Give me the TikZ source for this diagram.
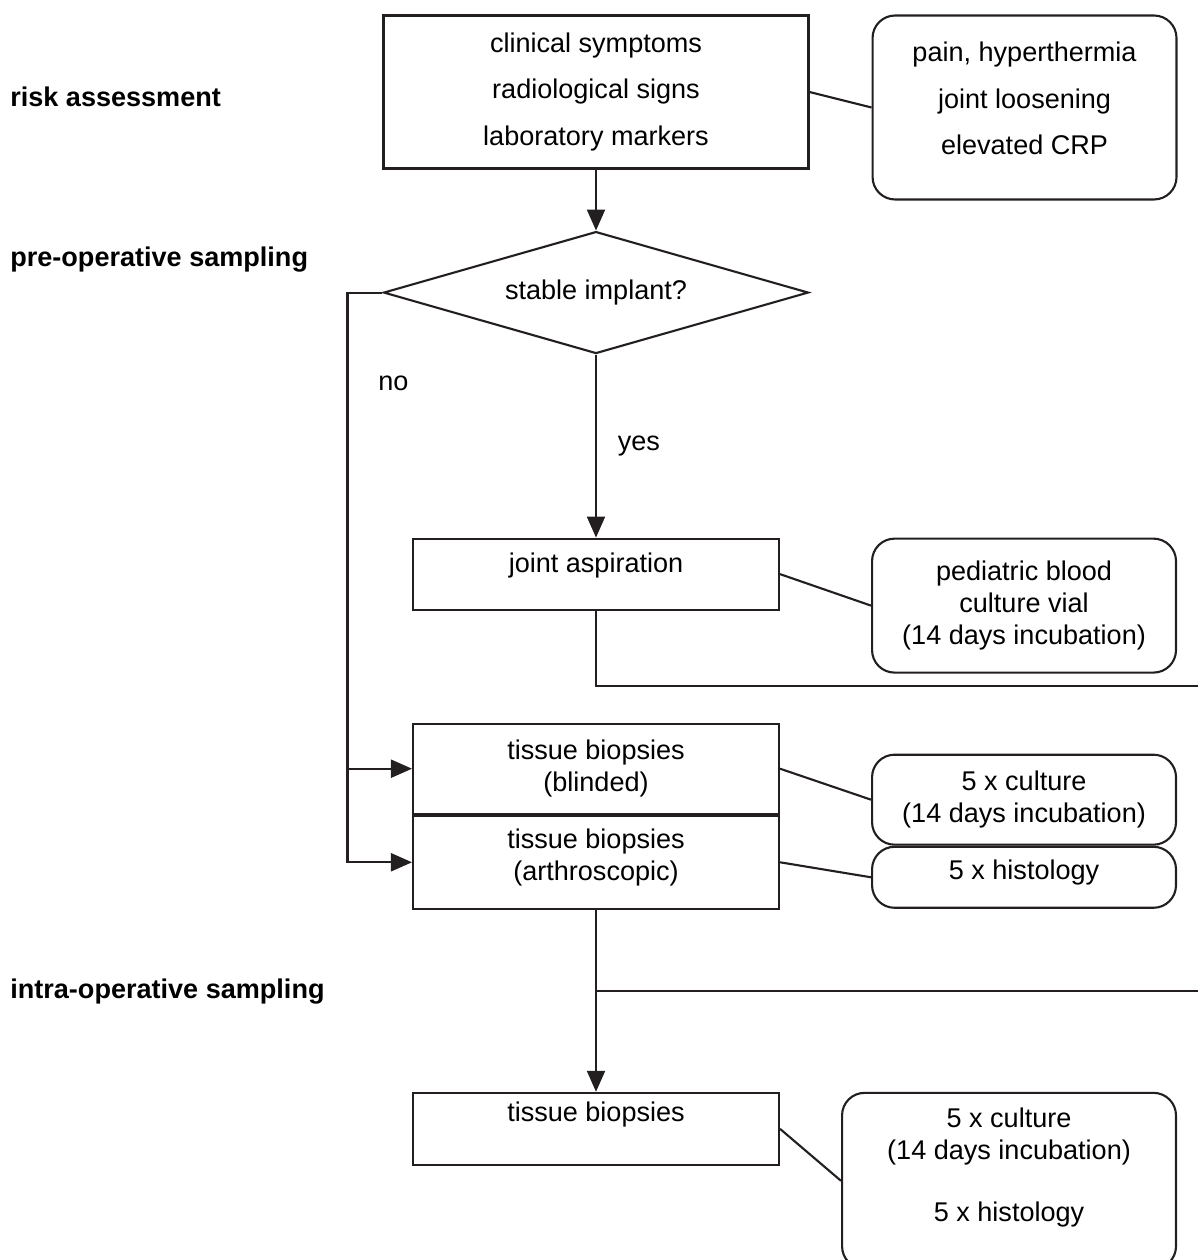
\documentclass[tikz,border=0pt]{standalone}
\usepackage{fontspec}
\setmainfont{Liberation Sans}
\usetikzlibrary{positioning,shapes.geometric,arrows.meta}
\definecolor{ink}{HTML}{231F20}
\tikzset{
  boxbase/.style={draw=ink, line width=1.2pt, align=center, inner sep=2pt},
  procbox/.style={boxbase, minimum width=7.32cm},
  infobox/.style={boxbase, rounded corners=0.45cm, minimum width=6.08cm},
  testbox/.style={boxbase, diamond, aspect=3.48, minimum width=8.5cm, minimum height=2.44cm, inner sep=0pt},
  phaselbl/.style={anchor=west, inner sep=0pt, font=\fontsize{15.4}{18.2}\selectfont\bfseries},
  flowarrow/.style={draw=ink, line width=1.2pt, -{Triangle[length=0.42cm,width=0.36cm]}},
  tieline/.style={draw=ink, line width=1.2pt}
}

\begin{document}
\begin{tikzpicture}[x=0.02cm, y=-0.02cm, font=\fontsize{15.4}{18.2}\selectfont]
\useasboundingbox (0,0) rectangle (1198,1260);
% phases
\node[phaselbl] (riskl) at (10,97) {risk assessment};
\node[phaselbl] (prel) at (10,260) {pre-operative sampling};
\node[phaselbl] (intral) at (10,992) {intra-operative sampling};
% main column
\node[procbox, minimum width=8.5cm, minimum height=3.06cm] (symp) at (596,92)
  {clinical symptoms\\[8.3pt]radiological signs\\[8.3pt]laboratory markers};
\node[infobox, minimum height=3.68cm, text depth=0.36cm, right=1.24cm of symp.north east, anchor=north west] (signs)
  {pain, hyperthermia\\[8.3pt]joint loosening\\[8.3pt]elevated CRP};
\node[testbox, below=1.22cm of symp] (stable) {stable implant?};
\node[procbox, minimum height=1.42cm, text depth=0.47cm, below=3.66cm of stable] (jasp) {joint aspiration};
\node[infobox, minimum height=2.68cm, right=1.82cm of jasp.north east, anchor=north west] (blood)
  {pediatric blood\\culture vial\\(14 days incubation)};
\node[procbox, minimum height=1.8cm, below=2.24cm of jasp] (blinded) {tissue biopsies\\(blinded)};
\node[procbox, minimum height=1.86cm, text depth=0.31cm, below=0pt of blinded] (arthro) {tissue biopsies\\(arthroscopic)};
\node[infobox, minimum height=1.8cm, below right=0.62cm and 1.82cm of blinded.north east, anchor=north west] (culture)
  {5 x culture\\(14 days incubation)};
\node[infobox, minimum height=1.22cm, text depth=0.31cm, below=0pt of culture] (histology) {5 x histology};
\node[procbox, minimum height=1.44cm, text depth=0.67cm, below=3.64cm of arthro] (tissue) {tissue biopsies};
\node[infobox, minimum width=6.68cm, minimum height=3.52cm, text depth=0.63cm, right=1.22cm of tissue.north east, anchor=north west] (result)
  {5 x culture\\(14 days incubation)\\[17pt]5 x histology};
% connectors
\coordinate[left=0.7cm of stable.west] (nobend);
\coordinate (edgeA) at (1198,686);
\coordinate (edgeB) at (1198,991);
\draw[flowarrow] (symp.south) -- (stable.north);
\draw[tieline] (symp.east) -- (signs.west);
\draw[flowarrow] (stable.south) -- node[right=0.3cm] (yeslbl) {yes} (jasp.north);
\draw[flowarrow] (stable.west) -- (nobend) |- node[pos=0.08, right=0.48cm] (nolbl) {no} (arthro.west);
\draw[flowarrow] (nobend) |- (blinded.west);
\draw[tieline] (jasp.east) -- (blood.west);
\draw[tieline] (jasp.south) |- (edgeA);
\draw[tieline] (blinded.east) -- (culture.west);
\draw[tieline] (arthro.east) -- (histology.west);
\draw[flowarrow] (arthro.south) -- (tissue.north);
\draw[tieline] (edgeB -| arthro.south) -- (edgeB);
\draw[tieline] (tissue.east) -- (result.west);
\end{tikzpicture}
\end{document}
